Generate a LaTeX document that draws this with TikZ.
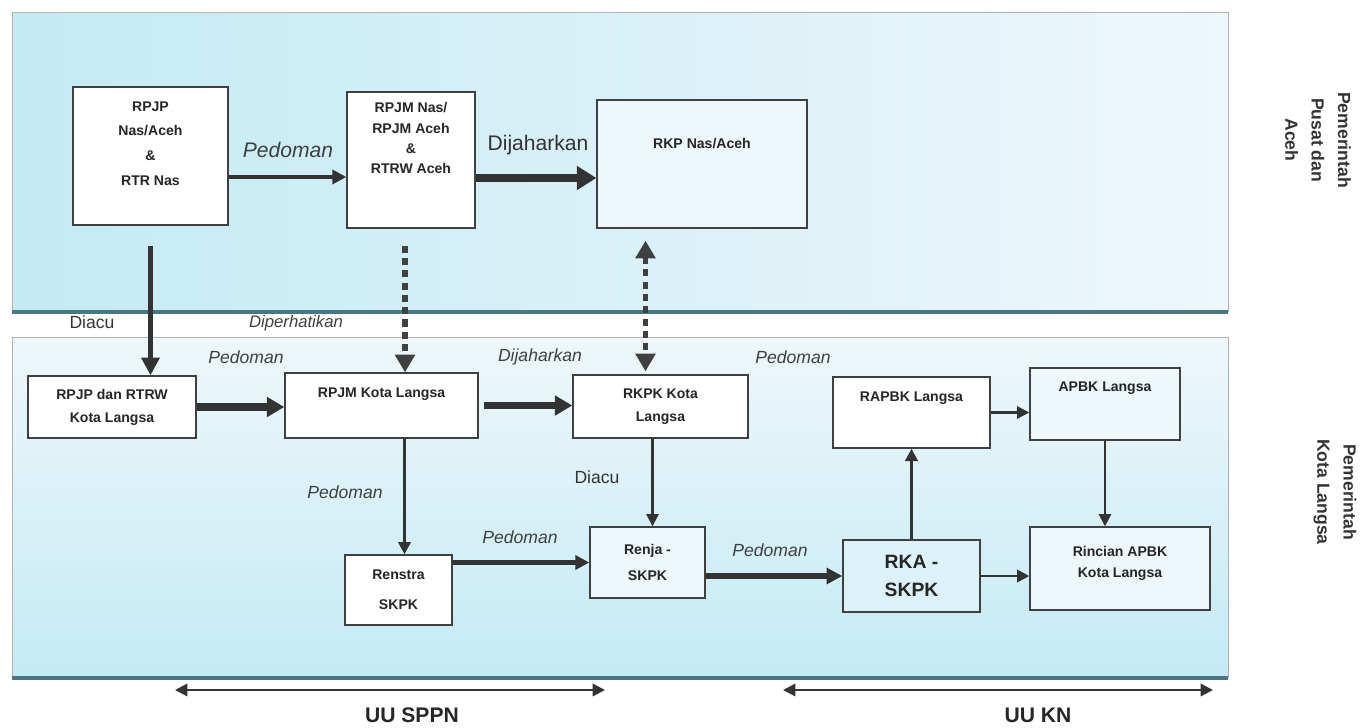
\documentclass[tikz,border=0pt]{standalone}
\usepackage{fontspec}
\setmainfont{Liberation Sans}
\usepackage{tikz}
\usetikzlibrary{positioning}
\usetikzlibrary{arrows.meta}

\definecolor{panelcyan}{RGB}{196,234,245}
\definecolor{panelpale}{RGB}{238,247,250}
\definecolor{edgeteal}{RGB}{72,118,132}

\begin{document}
\begin{tikzpicture}[x=0.02cm, y=-0.02cm]
    \tikzstyle{box}=[draw=black!75, fill=white, line width=0.8pt,
            align=center, inner sep=2pt,
            font=\bfseries\fontsize{8}{13}\selectfont, text=black!85]
    \tikzstyle{boxlabel}=[align=center, inner sep=0pt,
            font=\bfseries\fontsize{8}{12}\selectfont, text=black!85]
    \tikzstyle{pedoman}=[font=\itshape\fontsize{10}{12}\selectfont, text=black!75]
    \tikzstyle{acuan}=[font=\fontsize{10}{12}\selectfont, text=black!80]
    \tikzstyle{flow}=[black!80]
    \tikzstyle{dashflow}=[black!75, line width=3.4pt,
            dash pattern=on 4pt off 3pt]
    \tikzstyle{undang}=[font=\bfseries\fontsize{12}{14}\selectfont, text=black!85]
    \tikzstyle{pemerintah}=[rotate=-90, align=center,
            font=\bfseries\fontsize{10}{15}\selectfont, text=black!80]

    \useasboundingbox (0,0) rectangle (1362,727);
    \fill[white] (0,0) rectangle (1362,727);

    % panel pusat dan aceh
    \shade[left color=panelcyan, right color=panelpale] (12,12) rectangle (1228,312);
    \draw[black!30] (12,312) -- (12,12) -- (1228,12) -- (1228,312);
    \draw[edgeteal, line width=2pt] (12,312) -- (1228,312);

    % panel kota langsa
    \shade[top color=panelpale, bottom color=panelcyan] (12,337) rectangle (1228,678);
    \draw[black!30] (12,678) -- (12,337) -- (1228,337) -- (1228,678);
    \draw[edgeteal, line width=2pt] (12,678) -- (1228,678);

    \node[pemerintah] (pusat) at (1318,140) {Pemerintah\\Pusat dan\\Aceh};
    \node[pemerintah] (kota) at (1335,492) {Pemerintah\\Kota Langsa};

    % dokumen tingkat pusat
    \node[box, minimum width=3.1cm, minimum height=2.76cm,
        label={[boxlabel, font=\bfseries\fontsize{8}{14}\selectfont,
            anchor=north, yshift=-0.3cm]north:RPJP\\Nas/Aceh\\\&\\RTR Nas}]
        (rpjp) at (150.5,156) {};
    \node[box, minimum width=2.56cm, minimum height=2.72cm,
        label={[boxlabel, font=\bfseries\fontsize{8}{11.5}\selectfont,
            anchor=north, yshift=-0.22cm]north:RPJM Nas/\\RPJM Aceh\\\&\\RTRW Aceh}]
        (rpjmnas) at (411,160) {};
    \node[box, fill=panelpale, minimum width=4.2cm, minimum height=2.56cm,
        label={[boxlabel, anchor=north, yshift=-0.78cm]north:RKP Nas/Aceh}]
        (rkp) at (702,164) {};

    % dokumen tingkat kota
    \node[box, minimum width=3.36cm, minimum height=1.24cm] (rpjpkota)
        at (112,407) {RPJP dan RTRW\\Kota Langsa};
    \node[box, minimum width=3.86cm, minimum height=1.3cm,
        label={[boxlabel, anchor=north, yshift=-0.3cm]north:RPJM Kota Langsa}]
        (rpjmkota) at (381.5,405.5) {};
    \node[box, minimum width=3.5cm, minimum height=1.26cm] (rkpk)
        at (660.5,406.5) {RKPK Kota\\Langsa};
    \node[box, minimum width=3.14cm, minimum height=1.42cm,
        label={[boxlabel, anchor=north, yshift=-0.3cm]north:RAPBK Langsa}]
        (rapbk) at (911.5,412.5) {};
    \node[box, fill=panelpale, minimum width=3.0cm, minimum height=1.44cm,
        label={[boxlabel, anchor=north, yshift=-0.28cm]north:APBK Langsa}]
        (apbk) at (1105,404) {};
    \node[box, minimum width=2.14cm, minimum height=1.4cm,
        font=\bfseries\fontsize{8}{17}\selectfont] (renstra)
        at (398.5,590) {Renstra\\SKPK};
    \node[box, fill=panelpale, minimum width=2.3cm, minimum height=1.42cm,
        font=\bfseries\fontsize{8}{15}\selectfont] (renja)
        at (647.5,562.5) {Renja -\\SKPK};
    \node[box, fill=panelcyan!60!white, minimum width=2.74cm, minimum height=1.44cm,
        font=\bfseries\fontsize{11}{16}\selectfont] (rka)
        at (911.5,576) {RKA -\\SKPK};
    \node[box, fill=panelpale, minimum width=3.6cm, minimum height=1.66cm,
        label={[boxlabel, anchor=north, yshift=-0.4cm]north:Rincian APBK\\Kota Langsa}]
        (rincian) at (1120,568.5) {};

    % keterangan panah
    \node[pedoman, font=\itshape\fontsize{12}{14}\selectfont] (p1) at (288,150) {Pedoman};
    \node[acuan, font=\fontsize{12}{14}\selectfont] (d1) at (538,145) {Dijaharkan};
    \node[acuan] (a1) at (92,322) {Diacu};
    \node[pedoman, font=\itshape\fontsize{9.5}{12}\selectfont] (dp) at (296,323) {Diperhatikan};
    \node[pedoman] (p2) at (246,357) {Pedoman};
    \node[pedoman] (d2) at (540,357) {Dijaharkan};
    \node[pedoman] (p3) at (793,357) {Pedoman};
    \node[pedoman] (p4) at (345,492) {Pedoman};
    \node[acuan] (a2) at (597,477) {Diacu};
    \node[pedoman] (p5) at (520,537) {Pedoman};
    \node[pedoman] (p6) at (770,550) {Pedoman};

    % panah tingkat pusat
    \draw[flow, line width=2.3pt, -{Triangle[length=8pt, width=8pt]}]
        ([yshift=-0.42cm]rpjp.east) -- ([yshift=-0.42cm]rpjp.east -| rpjmnas.west);
    \draw[flow, line width=5pt, -{Triangle[length=11pt, width=13pt]}]
        ([yshift=-0.36cm]rpjmnas.east) -- ([yshift=-0.36cm]rpjmnas.east -| rkp.west);
    \draw[flow, line width=3pt, -{Triangle[length=10pt, width=10pt]}, shorten <=0.4cm]
        (rpjp.south) -- (rpjp.south |- rpjpkota.north);
    \draw[dashflow, -{Triangle[length=10pt, width=11pt]}, shorten <=0.34cm]
        ([xshift=-0.12cm]rpjmnas.south) -- ([xshift=-0.12cm]rpjmnas.south |- rpjmkota.north);
    \draw[dashflow, {Triangle[length=10pt, width=11pt]}-{Triangle[length=10pt, width=11pt]},
        shorten <=0.24cm, shorten >=0.06cm]
        ([xshift=-0.3cm]rpjmnas.south -| rkpk.north) -- ([xshift=-0.3cm]rkpk.north);

    % panah tingkat kota
    \draw[flow, line width=4pt, -{Triangle[length=10pt, width=11pt]}]
        (rpjpkota.east) -- (rpjpkota.east -| rpjmkota.west);
    \draw[flow, line width=3.5pt, -{Triangle[length=10pt, width=11pt]}, shorten <=0.1cm]
        (rpjmkota.east) -- (rpjmkota.east -| rkpk.west);
    \draw[flow, line width=1.7pt, -{Triangle[length=7pt, width=7pt]}]
        ([xshift=0.12cm]renstra.north |- rpjmkota.south) -- ([xshift=0.12cm]renstra.north);
    \draw[flow, line width=3pt, -{Triangle[length=8pt, width=8pt]}]
        (renstra.east |- renja.west) -- (renja.west);
    \draw[flow, line width=1.2pt, -{Triangle[length=7pt, width=7pt]}]
        ([xshift=0.1cm]renja.north |- rkpk.south) -- ([xshift=0.1cm]renja.north);
    \draw[flow, line width=3.5pt, -{Triangle[length=9pt, width=9pt]}]
        (rka.west -| renja.east) -- (rka.west);
    \draw[flow, line width=1.8pt, -{Triangle[length=7pt, width=7pt]}]
        (rka.north) -- (rapbk.south);
    \draw[flow, line width=1.2pt, -{Triangle[length=7pt, width=7pt]}]
        (rapbk.east) -- (rapbk.east -| apbk.west);
    \draw[flow, line width=1.6pt, -{Triangle[length=7pt, width=7pt]}]
        (rka.east) -- (rka.east -| rincian.west);
    \draw[flow, line width=1.2pt, -{Triangle[length=7pt, width=7pt]}]
        (apbk.south) -- (apbk.south |- rincian.north);

    % rentang undang-undang
    \coordinate (sppnL) at (175,690);
    \coordinate (sppnR) at (605,690);
    \coordinate (knL) at (783,690);
    \coordinate (knR) at (1213,690);
    \draw[flow, line width=1.2pt, {Triangle[length=7pt, width=7pt]}-{Triangle[length=7pt, width=7pt]}]
        (sppnL) -- (sppnR);
    \draw[flow, line width=1.2pt, {Triangle[length=7pt, width=7pt]}-{Triangle[length=7pt, width=7pt]}]
        (knL) -- (knR);
    \node[undang] (sppn) at (412,715) {UU SPPN};
    \node[undang] (kn) at (1038,715) {UU KN};
\end{tikzpicture}
\end{document}
